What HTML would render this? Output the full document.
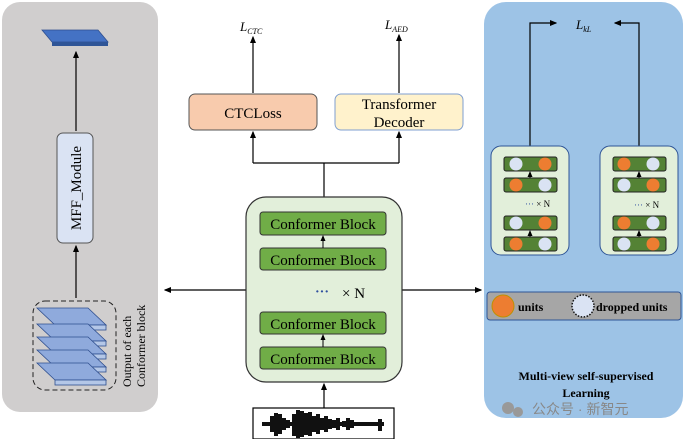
<!DOCTYPE html>
<html><head><style>body{margin:0;background:#fff}svg{display:block}</style></head><body>
<svg width="685" height="439" viewBox="0 0 685 439" xmlns="http://www.w3.org/2000/svg" font-family="Liberation Serif, serif">
<defs><marker id="a" markerWidth="6" markerHeight="6" refX="5" refY="3" orient="auto"><path d="M0,0.5 L6,3 L0,5.5z" fill="#000"/></marker></defs>
<!-- left panel -->
<rect x="2" y="2" width="156" height="410" rx="18" fill="#d0cece"/>
<polygon points="42,30 98,30 108,42 52,42" fill="#4472c4" stroke="#2f4f8f" stroke-width="0.8"/>
<polygon points="52,42 108,42 108,46 52,46" fill="#2f5597"/>
<line x1="76" y1="131" x2="76" y2="52" stroke="#000" stroke-width="1.2" marker-end="url(#a)"/>
<rect x="57" y="133" width="36" height="110" rx="6" fill="#dae3f3" stroke="#555"/>
<text transform="translate(81,188) rotate(-90)" text-anchor="middle" font-size="15">MFF_Module</text>
<line x1="76" y1="298" x2="76" y2="246" stroke="#000" stroke-width="1.2" marker-end="url(#a)"/>
<rect x="33" y="301" width="83" height="89" rx="12" fill="none" stroke="#222" stroke-dasharray="5,3"/>
<g stroke="#2f4f8f" stroke-width="0.8">
<g><polygon points="37,308 88,308 106,325 55,325" fill="#8faadc"/><rect x="55" y="325" width="51" height="5" fill="#b4c7e7"/></g>
<g transform="translate(0,16)"><polygon points="37,308 88,308 106,325 55,325" fill="#8faadc"/><rect x="55" y="325" width="51" height="5" fill="#b4c7e7"/></g>
<g transform="translate(0,29)"><polygon points="37,308 88,308 106,325 55,325" fill="#8faadc"/><rect x="55" y="325" width="51" height="5" fill="#b4c7e7"/></g>
<g transform="translate(0,42)"><polygon points="37,308 88,308 106,325 55,325" fill="#8faadc"/><rect x="55" y="325" width="51" height="5" fill="#b4c7e7"/></g>
<g transform="translate(0,55)"><polygon points="37,308 88,308 106,325 55,325" fill="#8faadc"/><rect x="55" y="325" width="51" height="5" fill="#b4c7e7"/></g>
</g>
<text transform="translate(131,387) rotate(-90)" font-size="12">Output of each</text>
<text transform="translate(145,387) rotate(-90)" font-size="12">Conformer block</text>
<!-- center -->
<text x="240" y="31" font-size="13" font-style="italic">L<tspan font-size="8" dy="3">CTC</tspan></text>
<text x="385" y="29" font-size="13" font-style="italic">L<tspan font-size="8" dy="3">AED</tspan></text>
<line x1="253" y1="93" x2="253" y2="37" stroke="#000" stroke-width="1.2" marker-end="url(#a)"/>
<line x1="399" y1="93" x2="399" y2="35" stroke="#000" stroke-width="1.2" marker-end="url(#a)"/>
<rect x="189" y="94" width="128" height="36" rx="6" fill="#f8cbad" stroke="#555"/>
<text x="253" y="118" text-anchor="middle" font-size="15">CTCLoss</text>
<rect x="335" y="94" width="128" height="36" rx="6" fill="#fff2cc" stroke="#7f9fd0"/>
<text x="399" y="109" text-anchor="middle" font-size="15">Transformer</text>
<text x="399" y="127" text-anchor="middle" font-size="15">Decoder</text>
<polyline points="253,163 253,132" fill="none" stroke="#000" stroke-width="1.2" marker-end="url(#a)"/>
<polyline points="399,163 399,132" fill="none" stroke="#000" stroke-width="1.2" marker-end="url(#a)"/>
<polyline points="253,163 399,163" fill="none" stroke="#000" stroke-width="1.2"/>
<line x1="324" y1="163" x2="324" y2="197" stroke="#000" stroke-width="1.2"/>
<line x1="247" y1="290" x2="165" y2="290" stroke="#000" stroke-width="1.2" marker-end="url(#a)"/>
<line x1="401" y1="290" x2="481" y2="290" stroke="#000" stroke-width="1.2" marker-end="url(#a)"/>
<rect x="246" y="197" width="156" height="185" rx="20" fill="#e2efda" stroke="#333" stroke-width="1.2"/>
<g font-size="15" text-anchor="middle" fill="#000">
<rect x="260" y="212" width="126" height="23" rx="3" fill="#70ad47" stroke="#333"/><text x="323" y="229">Conformer Block</text>
<rect x="260" y="248" width="126" height="22" rx="3" fill="#70ad47" stroke="#333"/><text x="323" y="265">Conformer Block</text>
<rect x="260" y="312" width="126" height="22" rx="3" fill="#70ad47" stroke="#333"/><text x="323" y="329">Conformer Block</text>
<rect x="260" y="347" width="126" height="22" rx="3" fill="#70ad47" stroke="#333"/><text x="323" y="364">Conformer Block</text>
</g>
<line x1="323" y1="248" x2="323" y2="236" stroke="#000" marker-end="url(#a)"/>
<line x1="323" y1="347" x2="323" y2="335" stroke="#000" marker-end="url(#a)"/>
<text x="322" y="296" text-anchor="middle" font-size="14" font-weight="bold" fill="#2f4f9f">···</text>
<text x="342" y="298" font-size="15">× N</text>
<line x1="324" y1="408" x2="324" y2="384" stroke="#000" stroke-width="1.2" marker-end="url(#a)"/>
<rect x="253" y="408" width="141" height="31" fill="#fff" stroke="#000" stroke-width="1.2"/>
<path d="M264,424 L270,424 M272,416 L272,432 M276,413 L276,436 M280,414 L280,434 M284,418 L284,430 M288,420 L288,428 M294,414 L294,436 M298,410 L298,438 M302,411 L302,437 M306,413 L306,435 M310,412 L310,436 M314,416 L314,432 M318,414 L318,434 M322,418 L322,430 M326,416 L326,432 M330,419 L330,429 M334,420 L334,428 M338,418 L338,430 M344,421 L344,427 M348,418 L348,430 M352,420 L352,428 M358,422 L358,426 M380,419 L380,431 M262,424 L384,424" stroke="#111" stroke-width="4"/>
<!-- right panel -->
<rect x="484" y="2" width="199" height="416" rx="22" fill="#9dc3e6"/>
<text x="576" y="29" font-size="13" font-style="italic">L<tspan font-size="8" dy="3">kL</tspan></text>
<polyline points="530,146 530,23 556,23" fill="none" stroke="#000" stroke-width="1.2" marker-end="url(#a)"/>
<polyline points="639,146 639,23 615,23" fill="none" stroke="#000" stroke-width="1.2" marker-end="url(#a)"/>
<g id="v1">
<rect x="491" y="146" width="78" height="109" rx="10" fill="#e2efda" stroke="#2f5597"/>
<rect x="504" y="157" width="53" height="14" rx="2" fill="#548235" stroke="#222"/>
<rect x="504" y="178" width="53" height="14" rx="2" fill="#548235" stroke="#222"/>
<rect x="504" y="216" width="53" height="14" rx="2" fill="#548235" stroke="#222"/>
<rect x="504" y="237" width="53" height="14" rx="2" fill="#548235" stroke="#222"/>
<line x1="530" y1="178" x2="530" y2="172" stroke="#000" marker-end="url(#a)"/>
<line x1="530" y1="237" x2="530" y2="231" stroke="#000" marker-end="url(#a)"/>
</g>
<use href="#v1" x="109"/>
<g fill="#ed7d31">
<circle cx="545" cy="164" r="6.5"/><circle cx="516" cy="185" r="6.5"/><circle cx="545" cy="223" r="6.5"/><circle cx="516" cy="244" r="6.5"/>
<circle cx="624" cy="164" r="6.5"/><circle cx="653" cy="185" r="6.5"/><circle cx="624" cy="223" r="6.5"/><circle cx="653" cy="244" r="6.5"/>
</g>
<g fill="#dae3f3">
<circle cx="516" cy="164" r="6.5"/><circle cx="545" cy="185" r="6.5"/><circle cx="516" cy="223" r="6.5"/><circle cx="545" cy="244" r="6.5"/>
<circle cx="653" cy="164" r="6.5"/><circle cx="624" cy="185" r="6.5"/><circle cx="653" cy="223" r="6.5"/><circle cx="624" cy="244" r="6.5"/>
</g>
<text x="525" y="207" font-size="9" fill="#2f4f9f">··· <tspan fill="#000">× N</tspan></text>
<text x="634" y="208" font-size="9" fill="#2f4f9f">··· <tspan fill="#000">× N</tspan></text>
<rect x="487" y="292" width="194" height="28" rx="3" fill="#a6a6a6" stroke="#2f5597"/>
<circle cx="503" cy="306" r="11" fill="#ed7d31" stroke="#c09000"/>
<text x="518" y="311" font-size="12" font-weight="bold">units</text>
<circle cx="583" cy="306" r="11" fill="#dae3f3" stroke="#111" stroke-dasharray="1.5,1.5" stroke-width="1.5"/>
<text x="596" y="311" font-size="12" font-weight="bold">dropped units</text>
<text x="586" y="380" text-anchor="middle" font-size="12" font-weight="bold">Multi-view self-supervised</text>
<text x="586" y="397" text-anchor="middle" font-size="12" font-weight="bold">Learning</text>
<text x="532" y="414" font-size="14" fill="#888" font-family="Liberation Sans, Noto Sans CJK SC, sans-serif">公众号 · 新智元</text>
<circle cx="508" cy="408" r="6" fill="#999"/><circle cx="518" cy="412" r="5" fill="#999"/>
</svg>
</body></html>
